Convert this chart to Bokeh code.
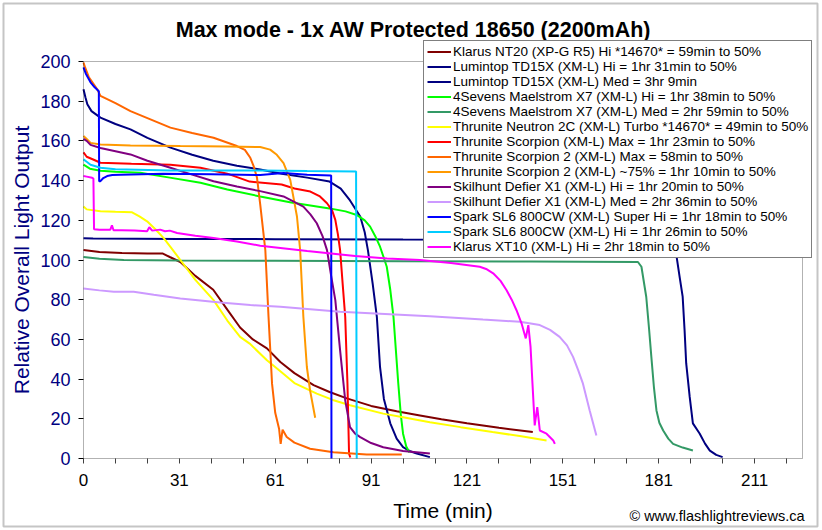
import math
from bokeh.plotting import figure
from bokeh.models import (Range1d, FixedTicker, Legend, LegendItem, Label, BoxAnnotation)
from bokeh.embed import file_html
from bokeh.resources import INLINE

FONT = "Liberation Sans"

title_text = "Max mode - 1x AW Protected 18650 (2200mAh)"
x_label = "Time (min)"
y_label = "Relative Overall Light Output"
credit = "\u00a9 www.flashlightreviews.ca"

x_tick_pos = [0, 30, 60, 90, 120, 150, 180, 210]
x_tick_labels = ["0", "31", "61", "91", "121", "151", "181", "211"]
x_minor = [10, 20, 40, 50, 70, 80, 100, 110, 130, 140, 160, 170, 190, 200, 220]
y_ticks = [0, 20, 40, 60, 80, 100, 120, 140, 160, 180, 200]
x_max = 225
y_max = 200

names = [
    "Klarus NT20 (XP-G R5) Hi *14670* = 59min to 50%",
    "Lumintop TD15X (XM-L) Hi = 1hr 31min to 50%",
    "Lumintop TD15X (XM-L) Med = 3hr 9min",
    "4Sevens Maelstrom X7 (XM-L) Hi = 1hr 38min to 50%",
    "4Sevens Maelstrom X7 (XM-L) Med = 2hr 59min to 50%",
    "Thrunite Neutron 2C (XM-L) Turbo *14670* = 49min to 50%",
    "Thrunite Scorpion (XM-L) Max = 1hr 23min to 50%",
    "Thrunite Scorpion 2 (XM-L) Max = 58min to 50%",
    "Thrunite Scorpion 2 (XM-L) ~75% = 1hr 10min to 50%",
    "Skilhunt Defier X1 (XM-L) Hi = 1hr 20min to 50%",
    "Skilhunt Defier X1 (XM-L) Med = 2hr 36min to 50%",
    "Spark SL6 800CW (XM-L) Super Hi = 1hr 18min to 50%",
    "Spark SL6 800CW (XM-L) Hi = 1hr 26min to 50%",
    "Klarus XT10 (XM-L) Hi = 2hr 18min to 50%",
]
colors = ["#800000", "#000080", "#000080", "#00FF00", "#339966", "#FFFF00", "#FF0000",
          "#FF6600", "#FF9900", "#800080", "#CC99FF", "#0000FF", "#00CCFF", "#FF00FF"]

nt20_x = [0, 5, 12, 20, 24.7, 27, 30.3, 35, 40.6, 45, 49, 53, 57.4, 61.6, 66, 72, 77, 82.4, 90, 98, 105.3, 112, 120, 130, 140.6]
nt20_y = [105, 104, 103.5, 103.3, 103.3, 101.5, 99, 92, 85, 75, 66, 60, 55.5, 48.6, 43, 37, 33.5, 30.3, 26.5, 23.8, 21.7, 19.8, 17.8, 15.5, 13.3]

td15hi_x = [0, 0.6, 1.2, 2.5, 5.3, 10, 14.7, 20, 27.2, 34, 40.6, 48, 55.3, 62, 70, 77, 80.5, 83.4, 86.6, 88, 89, 90.5, 91.8, 92.8, 94, 96, 98, 100, 102, 104.3, 108.4]
td15hi_y = [186, 182, 178.5, 175, 171.7, 168.5, 165.8, 161.5, 156.6, 153, 150, 147.5, 145.6, 143.5, 141.5, 139.5, 136, 130, 121.9, 114, 105, 88, 71.4, 46, 30, 17.7, 10, 5.7, 3.8, 2.5, 0.7]

td15med_x = [0, 3, 30, 60, 100, 140, 170, 180, 182, 183.5, 185.6, 186.5, 187.5, 188.1, 188.6, 189.7, 190.7, 192.8, 194.5, 196, 198, 200]
td15med_y = [111, 110.8, 110.6, 110.5, 110.3, 110.2, 110, 109.5, 108, 105, 101.7, 92, 81.5, 64.6, 48, 31, 17.7, 12.6, 7.5, 4, 1.8, 0.7]

x7hi_x = [0, 2, 5.3, 10, 17.8, 27, 36.6, 45, 55.3, 65, 77, 82, 85.5, 88, 89.7, 91.3, 92.8, 94, 94.9, 96, 97, 98.5, 99.3, 100, 101, 102]
x7hi_y = [148, 146, 145, 144.5, 144, 141.5, 138.9, 135.5, 132, 129, 126, 124.5, 122.7, 120, 116.8, 112, 106.7, 101, 96.6, 85, 71.4, 37.9, 22, 12.5, 6, 3]

x7med_x = [0, 5, 12.6, 30, 60, 100, 140, 173.5, 174.6, 176.1, 177, 177.7, 178.5, 179.3, 180.2, 181.4, 183, 184.5, 187.5, 190.7]
x7med_y = [101.5, 100.6, 100, 99.8, 99.6, 99.4, 99.2, 99, 96.6, 81.5, 65, 51.2, 36, 24.2, 18, 14.1, 10, 7.4, 5.5, 4]

n2c_x = [0, 1, 5.3, 10, 15.2, 17.5, 19.9, 22.5, 25.1, 27.5, 30.3, 35, 40.7, 45, 49, 52, 57.4, 61.6, 66, 73, 78, 83.4, 93.8, 100, 108.4, 118, 128, 137, 144.9]
n2c_y = [127, 125.5, 124.6, 124.3, 124, 122, 119.5, 115.5, 111, 106, 100, 90, 79.8, 69.5, 61.3, 57.9, 49.5, 44, 38, 32.7, 29.5, 26.8, 22.6, 20.8, 18.3, 15.8, 13.3, 11.2, 9.1]

scmax_x = [0, 1, 3.2, 5.3, 15, 27.2, 36.6, 45, 52, 62, 66, 71, 74, 76.2, 77.8, 78.8, 79.6, 80.3, 81.1, 81.9, 82.6, 83.1, 83.5]
scmax_y = [154.2, 152, 150.5, 149, 148.5, 148, 146.5, 143.5, 139.5, 138, 136, 134.5, 132, 128.6, 125, 120.2, 113, 105, 88, 71.4, 37.7, 2.4, 0.5]

sc2max_x = [0, 0.5, 1.7, 3, 4.3, 5.3, 10, 14.7, 20, 27.2, 34, 40.7, 48, 50.5, 52.2, 53.3, 54.3, 55.3, 56.9, 57.9, 59, 60, 61.2, 61.7, 62.3, 63.6, 66, 70.9, 78.2, 88.6, 99.6]
sc2max_y = [199.5, 197, 192, 189, 186, 182.7, 179, 175, 171.5, 166.7, 164, 161.6, 157.4, 155.5, 151.5, 147, 141.4, 128, 105, 71.4, 37.7, 23, 15, 7.4, 14.5, 10.8, 8, 4.9, 3.2, 2, 2]

sc275_x = [0, 1, 2.2, 5.3, 14.7, 30.3, 45, 55.3, 58.4, 60.5, 62.6, 64.7, 66.8, 67.8, 68.8, 69.9, 70.9, 72.5]
sc275_y = [162.5, 161, 159, 158.2, 157.7, 157.4, 157.2, 156.9, 155.6, 153, 148.8, 140.4, 121.9, 105, 71.4, 46.1, 34.3, 20.5]

dfhi_x = [0, 1, 2.2, 5.3, 14.7, 20, 27.2, 34, 40.7, 48, 55.3, 62.6, 68.8, 71, 73, 74.8, 76.2, 77.5, 78.8, 80.3, 81.9, 83.4, 85, 86.6, 90, 93.8, 100, 108.4]
dfhi_y = [161, 160, 158, 156.4, 153.2, 150, 146.5, 143, 139.7, 137, 134.7, 132, 126.9, 123, 118.5, 112, 105, 92, 79.8, 54.5, 29.3, 15.8, 12.5, 10.8, 7.8, 5.7, 3.8, 2.5]

dfmed_x = [0, 5, 9.5, 15.7, 22, 30.3, 42.8, 52.2, 61.6, 80.3, 108.4, 125, 136.6, 142.8, 146, 149, 151.3, 153.2, 154.8, 156.3, 158.4, 160.5]
dfmed_y = [85.7, 84.7, 84, 84, 82.5, 80.6, 78.6, 77.3, 76.4, 73.9, 71.7, 70, 68.9, 67.2, 64.8, 61.3, 57, 51.2, 44.5, 37.7, 24.2, 11.6]

sl6sh_x = [0, 0.7, 2.2, 3.5, 4.8, 4.9, 5.3, 6.2, 7.4, 9, 11.6, 25, 40, 55.3, 62.6, 70, 77.5, 77.6]
sl6sh_y = [197, 194, 189.5, 187, 185, 139.7, 139.7, 141.3, 142.3, 142.8, 143, 143.4, 143.2, 142.8, 143.8, 143, 142.6, 0]

sl6hi_x = [0, 1, 2.2, 5.3, 10, 27.2, 55.3, 70, 85.3, 85.5]
sl6hi_y = [150.7, 149.5, 148, 146.5, 145.7, 145.1, 145.1, 144.8, 144.6, 0]

xt10_x = [0, 1, 2.7, 3.1, 3.3, 5, 8.4, 8.9, 9.4, 12, 16, 19.9, 20.6, 21.5, 24, 25.5, 27, 29.3, 35, 40.7, 48, 55.3, 70, 85, 95, 105.3, 115, 124, 126, 128.2, 130.5, 132.4, 134, 135.5, 137.1, 138.4, 139.2, 139.9, 140.5, 141.2, 142, 142.8, 144.9, 147, 147.5]
xt10_y = [142.3, 142, 141.4, 141, 115.5, 115.3, 115.3, 117.5, 115, 115, 114.8, 114.5, 116.5, 114.8, 115.3, 114.5, 114.8, 113.6, 112.2, 111.1, 109.3, 107.2, 104.5, 102, 100.8, 100, 98.5, 96.6, 95.5, 93.3, 89.5, 84.8, 80, 74.7, 68, 60.5, 67.2, 56.2, 37.7, 16.7, 25.9, 14.1, 12.5, 9.1, 7.4]

series_x = [nt20_x, td15hi_x, td15med_x, x7hi_x, x7med_x, n2c_x, scmax_x, sc2max_x, sc275_x, dfhi_x, dfmed_x, sl6sh_x, sl6hi_x, xt10_x]
series_y = [nt20_y, td15hi_y, td15med_y, x7hi_y, x7med_y, n2c_y, scmax_y, sc2max_y, sc275_y, dfhi_y, dfmed_y, sl6sh_y, sl6hi_y, xt10_y]

# Canvas layout (pixels): plot area from x=83..802, y=61..458 in a 822x530 canvas
W, H = 822, 530
PL, PR, PT, PB = 83, 802, 61, 458
sx = (PR - PL) / x_max
sy = (PB - PT) / y_max

p = figure(width=W, height=H, output_backend="svg", toolbar_location=None,
           x_range=Range1d(-PL / sx, (W - PL) / sx),
           y_range=Range1d(-(H - PB) / sy, PB / sy),
           min_border=0, min_border_left=0, min_border_right=0,
           min_border_top=0, min_border_bottom=0)
p.background_fill_color = "white"
p.border_fill_color = "white"
p.outline_line_color = None
p.xgrid.grid_line_color = None
p.ygrid.grid_line_color = None

# plot-area frame
p.add_layout(BoxAnnotation(left=0, right=x_max, bottom=0, top=y_max,
                           fill_alpha=0, line_color="black", line_width=1))

renderers = []
for xs, ys, c in zip(series_x, series_y, colors):
    r = p.line(xs, ys, line_color=c, line_width=2)
    renderers.append(r)

# axes
xa = p.xaxis[0]
xa.fixed_location = 0
xa.ticker = FixedTicker(ticks=x_tick_pos, minor_ticks=x_minor)
xa.major_label_overrides = {t: l for t, l in zip(x_tick_pos, x_tick_labels)}
xa.major_tick_in = 0
xa.major_tick_out = 5
xa.minor_tick_in = 0
xa.minor_tick_out = 5
xa.major_tick_line_color = "#404040"
xa.minor_tick_line_color = "#404040"
xa.axis_line_color = None
xa.major_label_text_font = FONT
xa.major_label_text_font_size = "17px"
xa.major_label_text_color = "black"
xa.major_label_standoff = 10

ya = p.yaxis[0]
ya.fixed_location = 0
ya.ticker = FixedTicker(ticks=y_ticks, minor_ticks=[])
ya.major_tick_in = 0
ya.major_tick_out = 5
ya.major_tick_line_color = "black"
ya.axis_line_color = None
ya.major_label_text_font = FONT
ya.major_label_text_font_size = "18px"
ya.major_label_text_color = "#000080"
ya.major_label_standoff = 8

legend = Legend(items=[LegendItem(label=n, renderers=[r]) for n, r in zip(names, renderers)],
                location=(423, H - 258))
legend.label_text_font = FONT
legend.label_text_font_size = "13.5px"
legend.label_text_color = "black"
legend.label_height = 15
legend.glyph_height = 15
legend.glyph_width = 24
legend.label_standoff = 2
legend.spacing = 0
legend.padding = 3
legend.margin = 0
legend.border_line_color = "black"
legend.border_line_width = 1
legend.background_fill_color = "white"
legend.background_fill_alpha = 1
p.add_layout(legend, "center")

# titles
p.add_layout(Label(x=413, y=H - 29, x_units="screen", y_units="screen", text=title_text,
                   text_font=FONT, text_font_style="bold", text_font_size="21.5px",
                   text_align="center", text_baseline="middle", text_color="black"))
p.add_layout(Label(x=(PL + PR) / 2, y=H - 510, x_units="screen", y_units="screen", text=x_label,
                   text_font=FONT, text_font_size="21px", text_align="center",
                   text_baseline="middle", text_color="black"))
p.add_layout(Label(x=21, y=H - (PT + PB) / 2, x_units="screen", y_units="screen", text=y_label,
                   angle=math.pi / 2, text_font=FONT, text_font_size="21px",
                   text_align="center", text_baseline="middle", text_color="#000080"))
p.add_layout(Label(x=804, y=H - 515, x_units="screen", y_units="screen", text=credit,
                   text_font=FONT, text_font_size="14.5px", text_align="right",
                   text_baseline="middle", text_color="black"))

# outer chart border
p.add_layout(BoxAnnotation(left=3, right=817, top=H - 3, bottom=H - 526,
                           left_units="screen", right_units="screen",
                           top_units="screen", bottom_units="screen",
                           fill_alpha=0, line_color="#404040", line_width=2))

open("out.html", "w").write(file_html(p, INLINE))
